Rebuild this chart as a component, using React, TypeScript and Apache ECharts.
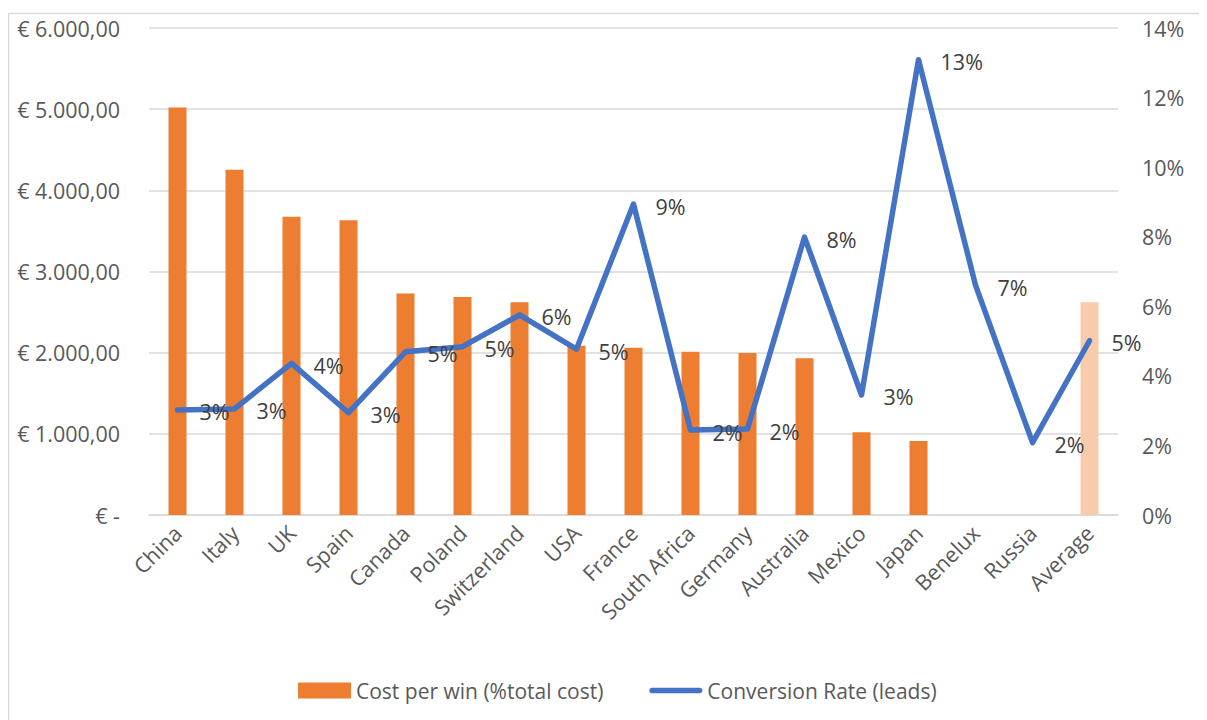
import React, { useEffect, useRef } from "react";
import * as echarts from "echarts";

// Countries, in chart order
const countries = [
  "China", "Italy", "UK", "Spain", "Canada", "Poland", "Switzerland", "USA",
  "France", "South Africa", "Germany", "Australia", "Mexico", "Japan",
  "Benelux", "Russia", "Average",
];

// Cost per win in euros
const costPerWin = [
  5020, 4255, 3675, 3630, 2730, 2686, 2620, 2086, 2061, 2012, 1996, 1930,
  1019, 912, 0, 0, 2620,
];

// Conversion rate of leads, in percent
const conversionRate = [
  3.02, 3.05, 4.36, 2.94, 4.69, 4.84, 5.75, 4.77, 8.94, 2.44, 2.47, 7.99,
  3.45, 13.09, 6.61, 2.08, 5.01,
];

const leftTicks = { min: 0, max: 6000, interval: 1000 };
const rightTicks = { min: 0, max: 14, interval: 2 };

const ORANGE = "#ED7D31";
const LIGHT_ORANGE = "#F8CBAD";
const BLUE = "#4472C4";
const FONT = "'Open Sans', 'Noto Sans', sans-serif";
const FS = 21.5;

const formatEuro = (v: number) => {
  if (v === 0) return "€ -";
  const whole = Math.round(v)
    .toString()
    .replace(/\B(?=(\d{3})+(?!\d))/g, ".");
  return `€ ${whole},00`;
};

export default function App() {
  const ref = useRef<HTMLDivElement>(null);

  useEffect(() => {
    if (!ref.current) return;
    const chart = echarts.init(ref.current, null, { renderer: "svg" });
    chart.setOption({
      animation: false,
      backgroundColor: "#ffffff",
      textStyle: { fontFamily: FONT },
      graphic: [
        {
          type: "rect",
          shape: { x: 0.5, y: 5.5, width: 1400, height: 1000 },
          style: { fill: "none", stroke: "#D9D9D9", lineWidth: 1.5 },
          silent: true,
        },
      ],
      grid: { left: 141, right: 89, top: 20, bottom: 205 },
      legend: {
        top: 667,
        left: 285,
        itemGap: 46,
        itemWidth: 53,
        itemHeight: 16,
        textStyle: { color: "#595959", fontSize: 21, fontFamily: FONT },
        data: [
          { name: "Cost per win (%total cost)", icon: "rect", itemStyle: { color: ORANGE } },
          {
            name: "Conversion Rate (leads)",
            icon: "path://M3,0 L54,0 A3,3 0 0 1 54,6 L3,6 A3,3 0 0 1 3,0 Z",
            itemStyle: { color: BLUE },
          },
        ],
      },
      xAxis: {
        type: "category",
        data: countries,
        axisLine: { lineStyle: { color: "#D9D9D9", width: 1.5 } },
        axisTick: { show: false },
        axisLabel: {
          rotate: 45,
          interval: 0,
          margin: 14,
          color: "#595959",
          fontSize: FS,
          fontFamily: FONT,
        },
      },
      yAxis: [
        {
          type: "value",
          ...leftTicks,
          axisLine: { show: false },
          axisTick: { show: false },
          splitLine: { lineStyle: { color: "#D9D9D9", width: 1.5 } },
          axisLabel: {
            margin: 29,
            color: "#595959",
            fontSize: FS,
            fontFamily: FONT,
            formatter: formatEuro,
          },
        },
        {
          type: "value",
          ...rightTicks,
          position: "right",
          axisLine: { show: false },
          axisTick: { show: false },
          splitLine: { show: false },
          axisLabel: {
            margin: 24,
            color: "#595959",
            fontSize: FS,
            fontFamily: FONT,
            formatter: (v: number) => `${v}%`,
          },
        },
      ],
      series: [
        {
          name: "Cost per win (%total cost)",
          type: "bar",
          yAxisIndex: 0,
          barWidth: 18,
          itemStyle: { color: ORANGE },
          data: costPerWin.map((v, i) =>
            i === countries.length - 1
              ? { value: v, itemStyle: { color: LIGHT_ORANGE } }
              : v
          ),
        },
        {
          name: "Conversion Rate (leads)",
          type: "line",
          yAxisIndex: 1,
          data: conversionRate,
          symbol: "circle",
          symbolSize: 0.1,
          showSymbol: true,
          lineStyle: { color: BLUE, width: 5.5, join: "round", cap: "round" },
          itemStyle: { color: BLUE },
          label: {
            show: true,
            position: "right",
            distance: 22,
            offset: [0, 2],
            color: "#404040",
            fontSize: FS,
            fontFamily: FONT,
            formatter: (p: any) => `${Math.round(p.value)}%`,
          },
        },
      ],
    });
    return () => chart.dispose();
  }, []);

  return <div ref={ref} style={{ width: 1199, height: 712 }} />;
}
